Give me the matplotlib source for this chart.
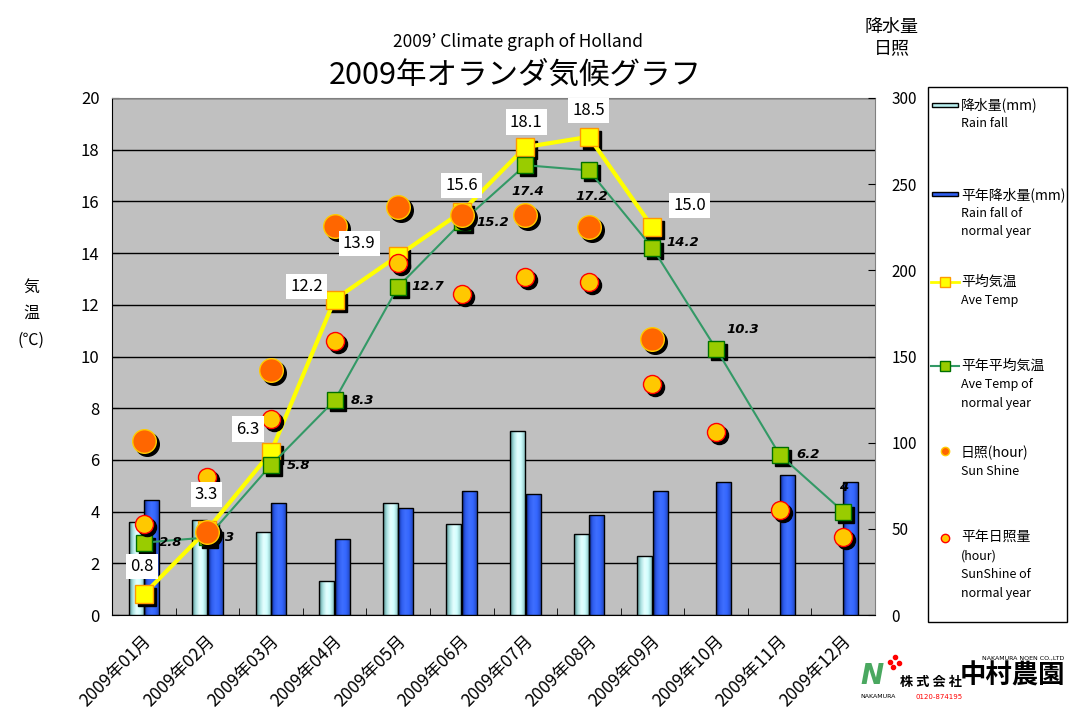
import numpy as np
import matplotlib
matplotlib.use("Agg")
import matplotlib.pyplot as plt
import matplotlib.transforms as mtransforms
from matplotlib.colors import LinearSegmentedColormap
from matplotlib.patches import Rectangle
from matplotlib.lines import Line2D

plt.rcParams['font.family'] = ['Noto Sans CJK JP', 'DejaVu Sans']

# data
months = ['2009年%02d月' % m for m in range(1, 13)]
rain = [54, 55, 48, 20, 65, 53, 107, 47, 34, np.nan, np.nan, np.nan]
rain_normal = [67, 48, 65, 44, 62, 72, 70, 58, 72, 77, 81, 77]
temp = [0.8, 3.3, 6.3, 12.2, 13.9, 15.6, 18.1, 18.5, 15.0, np.nan, np.nan, np.nan]
temp_normal = [2.8, 3, 5.8, 8.3, 12.7, 15.2, 17.4, 17.2, 14.2, 10.3, 6.2, 4]
sun = [101, 48, 142, 226, 237, 232, 232, 225, 160, np.nan, np.nan, np.nan]
sun_normal = [53, 80, 114, 159, 204, 186, 196, 193, 134, 106, 61, 45]

# label offsets in pixels (dx, dy; dy downwards)
temp_lbl_off = [(-2, -28), (-1, -35), (-23, -23), (-28, -13), (-39, -12),
                (0, -26), (1, -25), (0, -26), (37, -22)]
normal_lbl_off = [(27, 0), (22, 0), (28, 0), (28, 0), (30, 0), (31, 0),
                  (3, 26), (3, 26), (30, -5), (27, -19), (28, 0), (0, -24)]

W, H = 1070, 720
fig = plt.figure(figsize=(W / 100, H / 100), dpi=100)
fig.patch.set_facecolor('white')


def fx(px):
    return px / W


def fy(py):
    return 1 - py / H


x = np.arange(len(months))
ax = fig.add_axes([fx(112), fy(615), 763 / W, 517 / H])
ax.set_facecolor('#C0C0C0')
ax.set_xlim(-0.5, 11.5)
ax.set_ylim(0, 20)
ax.set_yticks(np.arange(0, 21, 2))
ax.yaxis.grid(True, color='black', lw=1)
ax.set_axisbelow(True)
ax.tick_params(axis='y', direction='in', length=5, labelsize=12, pad=9)
ax.set_xticks(x)
ax.set_xticklabels(months, rotation=45, ha='right', va='center',
                   rotation_mode='anchor', fontsize=12.5)
ax.set_xticks(np.arange(0.5, 11, 1), minor=True)
ax.tick_params(axis='x', which='major', length=0, pad=17)
ax.tick_params(axis='x', which='minor', direction='in', length=5)
lbl_shift = mtransforms.ScaledTranslation(5 / 100, 0, fig.dpi_scale_trans)
for lbl in ax.get_xticklabels():
    lbl.set_transform(lbl.get_transform() + lbl_shift)
for s in ['left', 'bottom']:
    ax.spines[s].set_color('black')
for s in ['top', 'right']:
    ax.spines[s].set_color('#808080')

# rainfall bars (right axis)
ax_rain = ax.twinx()
ax_rain.set_ylim(0, 300)
ax_rain.set_yticks(np.arange(0, 301, 50))
ax_rain.tick_params(axis='y', direction='in', length=5, labelsize=11, pad=12)
for s in ax_rain.spines.values():
    s.set_visible(False)

cm_light = LinearSegmentedColormap.from_list(
    'light', ['#4f8a8a', '#a8e0e0', '#e6ffff', '#d0ffff', '#8cc4c4'])
cm_blue = LinearSegmentedColormap.from_list(
    'blue', ['#10288a', '#2f5ef0', '#3f6fff', '#3366ff', '#2448c0'])
grad = np.linspace(0, 1, 64).reshape(1, -1)
width = 0.235


def gradient_bars(axis, xs, heights, cmap):
    bars = axis.bar(xs, heights, width, color='none', edgecolor='black',
                    lw=1, zorder=3)
    for b, h in zip(bars, heights):
        if np.isnan(h):
            continue
        x0 = b.get_x()
        im = axis.imshow(grad, extent=[x0, x0 + width, 0, h], aspect='auto',
                         cmap=cmap, interpolation='bicubic', zorder=2)
        im.set_clip_path(b)


gradient_bars(ax_rain, x - 0.122, rain, cm_light)
gradient_bars(ax_rain, x + 0.122, rain_normal, cm_blue)
ax_rain.set_xlim(-0.5, 11.5)
ax_rain.set_ylim(0, 300)

# temperature lines
ax_temp = ax.twinx()
ax_temp.set_axis_off()
ax_temp.set_ylim(0, 20)
shadow = ax_temp.transData + mtransforms.ScaledTranslation(
    3 / 100, -3 / 100, fig.dpi_scale_trans)
ax_temp.plot(x, temp, 's', ms=13, color='black', transform=shadow, zorder=2)
ax_temp.plot(x, temp, '-s', color='#FFFF00', lw=3, ms=13, mfc='#FFFF00',
             mec='#FF9900', mew=1, zorder=3)
ax_temp.plot(x, temp_normal, 's', ms=11, color='black', transform=shadow,
             zorder=4)
ax_temp.plot(x, temp_normal, '-s', color='#339966', lw=1.5, ms=11,
             mfc='#99CC00', mec='#007000', mew=1, zorder=5)
ax_temp.set_xlim(-0.5, 11.5)

# sunshine circles
ax_sun = ax.twinx()
ax_sun.set_axis_off()
ax_sun.set_ylim(0, 300)
sh_sun = ax_sun.transData + mtransforms.ScaledTranslation(
    3 / 100, -3 / 100, fig.dpi_scale_trans)
ax_sun.plot(x, sun_normal, 'o', ms=13, color='black', transform=sh_sun, zorder=2)
ax_sun.plot(x, sun_normal, 'o', ms=13, mfc='#FFC800', mec='#FF0000', mew=1,
            zorder=3)
ax_sun.plot(x, sun, 'o', ms=17, color='black', transform=sh_sun, zorder=4)
ax_sun.plot(x, sun, 'o', ms=17, mfc='#FF6600', mec='#FFCC00', mew=1, zorder=5)
ax_sun.set_xlim(-0.5, 11.5)

# data labels
for i, v in enumerate(temp):
    if np.isnan(v):
        continue
    dx, dy = temp_lbl_off[i]
    ax_sun.annotate('%.1f' % v, (x[i], v), xycoords=ax_temp.transData,
                    xytext=(dx, -dy), textcoords='offset pixels',
                    ha='center', va='center', fontsize=12, zorder=10,
                    annotation_clip=False,
                    bbox=dict(boxstyle='square,pad=0.25', fc='white', ec='none'))
for i, v in enumerate(temp_normal):
    dx, dy = normal_lbl_off[i]
    ax_sun.annotate('%g' % v, (x[i], v), xycoords=ax_temp.transData,
                    xytext=(dx, -dy), textcoords='offset pixels',
                    ha='center', va='center', fontsize=9.5, zorder=9,
                    family=['DejaVu Sans'], style='italic', weight='bold',
                    annotation_clip=False)

# titles and axis captions
fig.text(fx(518), fy(42), '2009\u2019 Climate graph of Holland', ha='center',
         va='center', fontsize=12.5)
fig.text(fx(515), fy(75), '2009年オランダ気候グラフ', ha='center', va='center',
         fontsize=22)
for t, py in [('気', 287), ('温', 313), ('(℃)', 340)]:
    fig.text(fx(31), fy(py), t, ha='center', va='center', fontsize=11.5)
fig.text(fx(892), fy(27), '降水量', ha='center', va='center', fontsize=13)
fig.text(fx(892), fy(48), '日照', ha='center', va='center', fontsize=13)

# legend box
fig.add_artist(Rectangle((fx(928), fy(622)), 139 / W, 535 / H,
                         transform=fig.transFigure, fill=False, ec='black', lw=1))
entries = [
    (105, ['降水量(mm)', 'Rain fall']),
    (195, ['平年降水量(mm)', 'Rain fall of', 'normal year']),
    (282, ['平均気温', 'Ave Temp']),
    (366, ['平年平均気温', 'Ave Temp of', 'normal year']),
    (453, ['日照(hour)', 'Sun Shine']),
    (538, ['平年日照量', '(hour)', 'SunShine of', 'normal year']),
]
for py, lines in entries:
    for k, t in enumerate(lines):
        fs = 10 if k == 0 else 9
        fig.text(fx(961), fy(py + 18.5 * k), t, ha='left', va='center',
                 fontsize=fs)
fig.add_artist(Rectangle((fx(932), fy(107)), 26 / W, 4 / H,
                         transform=fig.transFigure, fc='#b8eeee', ec='black', lw=1))
fig.add_artist(Rectangle((fx(932), fy(196)), 26 / W, 4 / H,
                         transform=fig.transFigure, fc='#2f5ef0', ec='black', lw=1))
fig.add_artist(Line2D([fx(931), fx(959)], [fy(282), fy(282)],
                      transform=fig.transFigure, color='#FFFF00', lw=2))
fig.add_artist(Line2D([fx(945)], [fy(282)], transform=fig.transFigure,
                      marker='s', ms=7, mfc='#FFFF00', mec='#FF9900', ls='none'))
fig.add_artist(Line2D([fx(931), fx(959)], [fy(366), fy(366)],
                      transform=fig.transFigure, color='#339966', lw=1.5))
fig.add_artist(Line2D([fx(945)], [fy(366)], transform=fig.transFigure,
                      marker='s', ms=7, mfc='#99CC00', mec='#007000', ls='none'))
fig.add_artist(Line2D([fx(945)], [fy(451)], transform=fig.transFigure,
                      marker='o', ms=6, mfc='#FF6600', mec='#FFCC00', ls='none'))
fig.add_artist(Line2D([fx(945)], [fy(538)], transform=fig.transFigure,
                      marker='o', ms=6, mfc='#FFC800', mec='#FF0000', ls='none'))

# company logo text
fig.text(fx(1064), fy(658), 'NAKAMURA NOEN CO.,LTD', ha='right', va='center',
         fontsize=4.5, family=['DejaVu Sans'])
fig.text(fx(900), fy(682), '株 式 会 社', ha='left', va='center', fontsize=9.5,
         weight='bold')
fig.text(fx(960), fy(676), '中村農園', ha='left', va='center', fontsize=19,
         weight='bold')
fig.text(fx(860), fy(697), 'NAKAMURA', ha='left', va='center', fontsize=4.5,
         family=['DejaVu Sans'])
fig.text(fx(915), fy(697), '0120-874195', ha='left', va='center', fontsize=5,
         color='red', family=['DejaVu Sans'])
fig.text(fx(872), fy(676), 'N', ha='center', va='center', fontsize=20,
         color='#4aa860', weight='bold', style='italic', family=['DejaVu Sans'])
fig.add_artist(Line2D([fx(890), fx(895), fx(899), fx(893)],
                      [fy(662), fy(657), fy(663), fy(667)],
                      transform=fig.transFigure, ls='none', marker='o', ms=3,
                      color='red'))

fig.savefig('out.png', dpi=100)
